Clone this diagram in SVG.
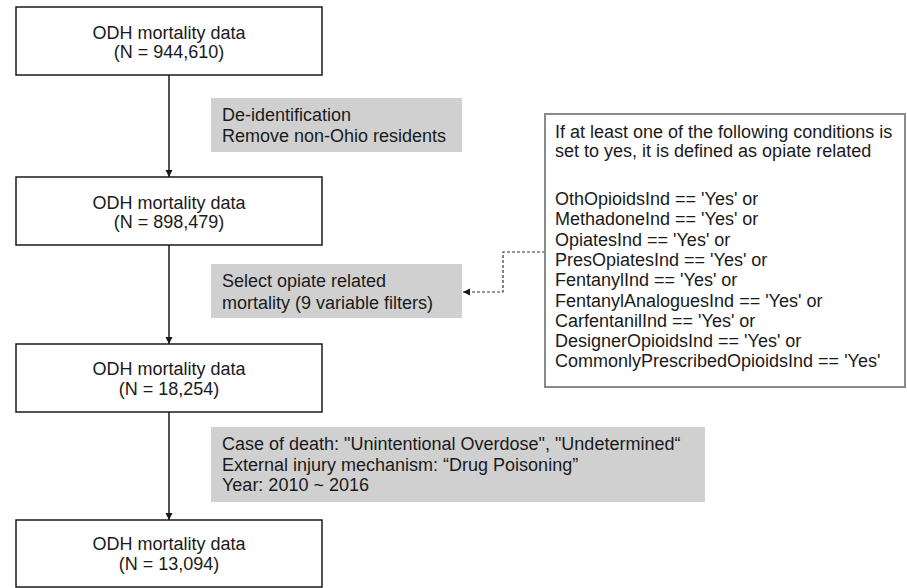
<svg xmlns="http://www.w3.org/2000/svg" width="907" height="588" viewBox="0 0 907 588">
<style>
  text { font-family: "Liberation Sans", Arial, sans-serif; font-size: 18px; fill: #1a1a1a; }
  .box { fill: #ffffff; stroke: #1a1a1a; stroke-width: 1.5; }
  .note { fill: #d1d0d0; stroke: none; }
  .cond { fill: #ffffff; stroke: #8a8a8a; stroke-width: 2; }
  .mid { text-anchor: middle; }
  .conn { stroke: #1a1a1a; stroke-width: 1.5; fill: none; }
  .dash { stroke: #333333; stroke-width: 1.2; fill: none; stroke-dasharray: 3 2; }
</style>
<defs>
  <marker id="arr" viewBox="0 0 10 10" refX="10" refY="5" markerWidth="5" markerHeight="5" orient="auto" markerUnits="strokeWidth">
    <path d="M0,0 L10,5 L0,10 z" fill="#1a1a1a"/>
  </marker>
  <marker id="arrd" viewBox="0 0 10 10" refX="10" refY="5" markerWidth="6" markerHeight="6" orient="auto" markerUnits="strokeWidth">
    <path d="M0,0 L10,5 L0,10 z" fill="#1a1a1a"/>
  </marker>
</defs>

<g id="connectors">
  <line class="conn" x1="169" y1="75" x2="169" y2="177" marker-end="url(#arr)"/>
  <line class="conn" x1="169" y1="245" x2="169" y2="344" marker-end="url(#arr)"/>
  <line class="conn" x1="169" y1="412" x2="169" y2="520" marker-end="url(#arr)"/>
  <polyline class="dash" points="545,252 503,252 503,292 463,292" marker-end="url(#arrd)"/>
</g>

<g id="node1">
  <rect class="box" x="16" y="7" width="306" height="68"/>
  <text class="mid" x="169" y="39">ODH mortality data</text>
  <text class="mid" x="169" y="58">(N = 944,610)</text>
</g>

<g id="step1">
  <rect class="note" x="211" y="98" width="251" height="54"/>
  <text x="222" y="121">De-identification</text>
  <text x="222" y="142">Remove non-Ohio residents</text>
</g>

<g id="node2">
  <rect class="box" x="16" y="177" width="306" height="68"/>
  <text class="mid" x="169" y="209">ODH mortality data</text>
  <text class="mid" x="169" y="228">(N = 898,479)</text>
</g>

<g id="step2">
  <rect class="note" x="211" y="264" width="251" height="54"/>
  <text x="222" y="287">Select opiate related</text>
  <text x="222" y="309">mortality (9 variable filters)</text>
</g>

<g id="conditions">
  <rect class="cond" x="545" y="114" width="360" height="273"/>
  <text x="555" y="138">If at least one of the following conditions is</text>
  <text x="555" y="157">set to yes, it is defined as opiate related</text>
  <text x="555" y="205">OthOpioidsInd == 'Yes' or</text>
  <text x="555" y="225">MethadoneInd == 'Yes' or</text>
  <text x="555" y="246">OpiatesInd == 'Yes' or</text>
  <text x="555" y="266">PresOpiatesInd == 'Yes' or</text>
  <text x="555" y="286">FentanylInd == 'Yes' or</text>
  <text x="555" y="307">FentanylAnaloguesInd == 'Yes' or</text>
  <text x="555" y="327">CarfentanilInd == 'Yes' or</text>
  <text x="555" y="347">DesignerOpioidsInd == 'Yes' or</text>
  <text x="555" y="367">CommonlyPrescribedOpioidsInd == 'Yes'</text>
</g>

<g id="node3">
  <rect class="box" x="16" y="344" width="306" height="68"/>
  <text class="mid" x="169" y="375">ODH mortality data</text>
  <text class="mid" x="169" y="395">(N = 18,254)</text>
</g>

<g id="step3">
  <rect class="note" x="211" y="427" width="494" height="75"/>
  <text x="222" y="450">Case of death: "Unintentional Overdose", "Undetermined“</text>
  <text x="222" y="471">External injury mechanism: “Drug Poisoning”</text>
  <text x="222" y="491">Year: 2010 ~ 2016</text>
</g>

<g id="node4">
  <rect class="box" x="16" y="520" width="306" height="67"/>
  <text class="mid" x="169" y="550">ODH mortality data</text>
  <text class="mid" x="169" y="570">(N = 13,094)</text>
</g>
</svg>
